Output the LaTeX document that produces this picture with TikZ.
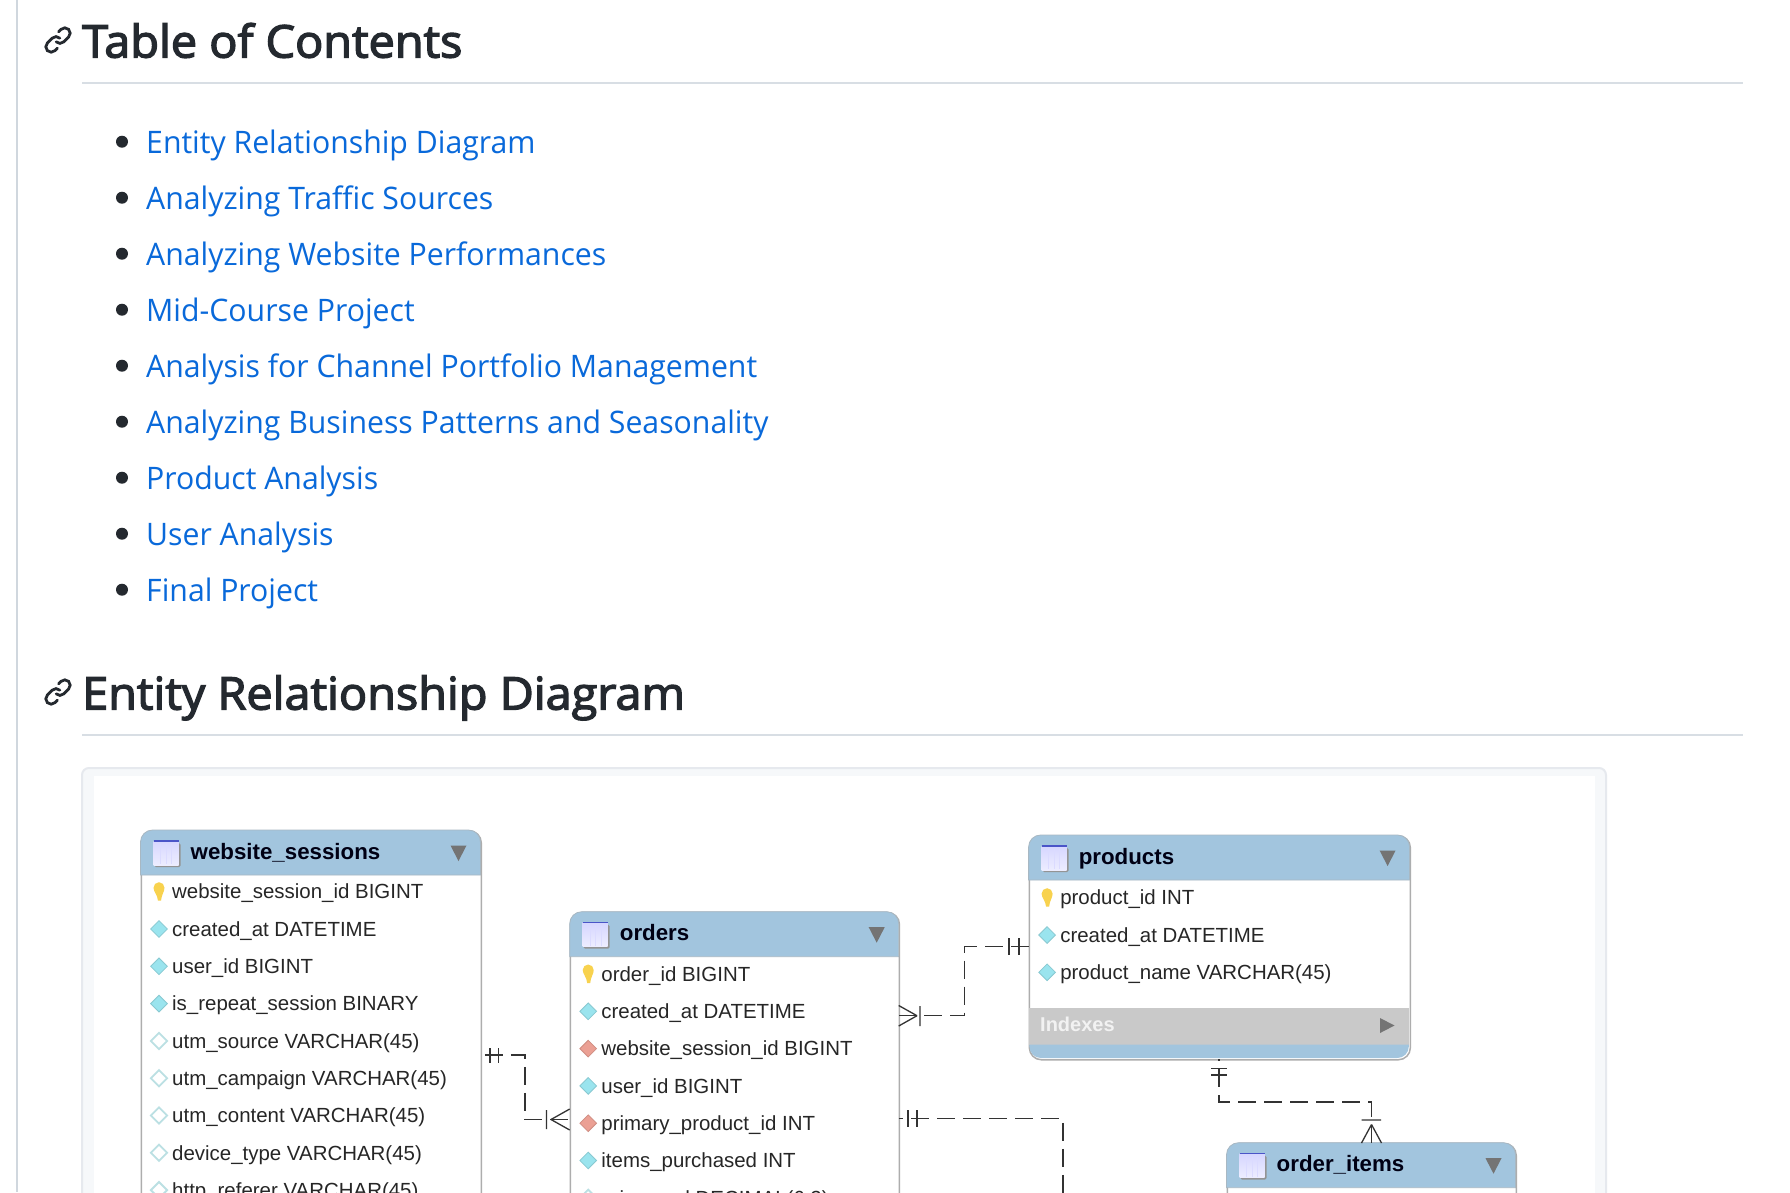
\documentclass[tikz,border=0pt]{standalone}
\usepackage{fontspec}
\setmainfont{Open Sans}
\newfontfamily\headfont{Open Sans}[FakeBold=3,FakeStretch=1.04]
\newfontfamily\listfont{Open Sans}[FakeStretch=0.975]
\newfontfamily\erfont{Liberation Sans}
\usetikzlibrary{shapes.geometric}
\definecolor{inkdark}{HTML}{24292F}
\definecolor{linkblue}{HTML}{0969DA}
\definecolor{rulegray}{HTML}{D8DEE4}
\definecolor{sidegray}{HTML}{D0D7DE}
\definecolor{erblue}{HTML}{A2C5DE}
\definecolor{erline}{HTML}{ADADAD}
\definecolor{ertri}{HTML}{747474}
\definecolor{iconblue}{HTML}{4A55C8}
\definecolor{markfull}{HTML}{9AE4EE}
\definecolor{markred}{HTML}{EBA094}
\definecolor{marknull}{HTML}{BBE0E3}
\definecolor{keygold}{HTML}{F8D24E}
\definecolor{framefill}{HTML}{F6F8FA}
\definecolor{frameline}{HTML}{E6E9EE}

% one table: name, x, y, width, height, title
\newcommand{\ertable}[6]{
  \node [erbody, minimum width=#4pt, minimum height=#5pt, anchor=north west] (#1) at (#2,#3) {};
  \draw [erhead] (#2,#3+45) -- (#2,#3+12) arc [start angle=180, end angle=270, radius=12]
    -- (#2+#4-12,#3) arc [start angle=270, end angle=360, radius=12] -- (#2+#4,#3+45) -- cycle;
  \fill [black!42, rounded corners=1.5pt] (#2+14,#3+13) rectangle (#2+40,#3+37);
  \shade [top color=blue!16!white, bottom color=blue!7!white] (#2+13,#3+11) rectangle (#2+38,#3+35);
  \draw [iconblue, line width=1.4pt] (#2+13,#3+11) -- (#2+38,#3+11);
  \foreach \s in {20,25.5,31} \draw [blue!14!white] (#2+\s,#3+14) -- (#2+\s,#3+34);
  \node [ertitle] (#1-title) at (#2+50,#3+29) {#6};
  \fill [ertri] (#2+#4-30,#3+15.5) -- (#2+#4-14,#3+15.5) -- (#2+#4-22,#3+31) -- cycle;
}
% rows of a table: name, x, y of first row, kind/text list
\newcommand{\erfields}[4]{
  \foreach \kind/\txt [count=\i] in {#4} {
    \pgfmathsetmacro\rowy{#3+(\i-1)*37.3}
    \node [\kind] (#1-mark-\i) at (#2+18.5,\rowy) {};
    \node [erfield] (#1-field-\i) at (#2+31.5,\rowy+7.2) {\txt};
  }
  \fill [keygold] (#2+13,#3-4) arc [start angle=180, end angle=360, radius=5.5]
    .. controls (#2+24,#3) and (#2+21,#3+3) .. (#2+20.5,#3+9)
    -- (#2+17.5,#3+9) .. controls (#2+17,#3+3) and (#2+13,#3) .. cycle;
}
\newcommand{\chainicon}[2]{
  \begin{scope}[shift={(#1-15.6,#2-15.6)}, x=1.95pt, y=-1.95pt, inkdark, line width=2.8pt, line cap=round]
    \draw (8.3,3.8) -- (9.555,2.555) arc [start angle=225, end angle=405, radius=2.75]
      -- (10.945,8.945) arc [start angle=45, end angle=135, radius=2.75];
    \draw (7.7,12.2) -- (6.445,13.445) arc [start angle=45, end angle=225, radius=2.75]
      -- (5.055,7.055) arc [start angle=225, end angle=315, radius=2.75];
  \end{scope}
}

\begin{document}
\begin{tikzpicture}[x=1pt,y=-1pt,
        erbody/.style={draw=erline,line width=1.5pt,fill=white,rounded corners=12pt},
        erhead/.style={fill=erblue,draw=erline!55!erblue,line width=.8pt},
        ertitle/.style={anchor=base west,inner sep=0pt,font=\erfont\bfseries\fontsize{22.3}{26}\selectfont,text=black!92!blue},
        erfield/.style={anchor=base west,inner sep=0pt,font=\erfont\fontsize{20.45}{26}\selectfont,text=black!85},
        mfull/.style={diamond,inner sep=0pt,minimum size=17pt,fill=markfull,draw=black!12!markfull,line width=.8pt},
        mnull/.style={diamond,inner sep=0pt,minimum size=17pt,fill=white,draw=marknull,line width=1.8pt},
        mfkey/.style={diamond,inner sep=0pt,minimum size=17pt,fill=markred,draw=black!12!markred,line width=.8pt},
        mnone/.style={inner sep=0pt,minimum size=1pt},
        relline/.style={draw=black!80,line width=1.5pt,dash pattern=on 18pt off 8pt},
        relmark/.style={draw=black!80,line width=1.3pt},
        heading/.style={anchor=base west,inner sep=0pt,font=\headfont\fontsize{45}{54}\selectfont,text=inkdark},
        toclink/.style={anchor=base west,inner sep=0pt,font=\listfont\fontsize{31}{38}\selectfont,text=linkblue},
        tocdot/.style={circle,fill=inkdark,inner sep=0pt,minimum size=12pt}
      ]
      \useasboundingbox (0,0) rectangle (1790,1192);
      \clip (0,0) rectangle (1790,1192);
      \fill [white] (0,0) rectangle (1790,1192);
      \draw [sidegray, line width=2pt] (17,0) -- (17,1192);

      % page headings and contents list
      \chainicon{58}{40}
      \node [heading] (tochead) at (82,57.5) {Table of Contents};
      \draw [rulegray, line width=2pt] (82,83) -- (1743,83);
      \foreach \txt [count=\i] in {Entity Relationship Diagram,Analyzing Traffic Sources,Analyzing Website Performances,Mid-Course Project,Analysis for Channel Portfolio Management,Analyzing Business Patterns and Seasonality,Product Analysis,User Analysis,Final Project} {
        \node [tocdot] (dot-\i) at (122,85.7+\i*56) {};
        \node [toclink] (toc-\i) at (146,97.5+\i*56) {\txt};
      }
      \chainicon{58}{692}
      \node [heading] (erdhead) at (82,709.5) {Entity Relationship Diagram};
      \draw [rulegray, line width=2pt] (82,735) -- (1743,735);

      % image frame
      \draw [frameline, fill=framefill, line width=2pt, rounded corners=7pt] (82,768) rectangle (1606,1300);
      \fill [white] (94,776) rectangle (1595,1300);

      % tables
      \ertable{sessions}{140.5}{830}{340}{500}{website\_sessions}
      \erfields{sessions}{140.5}{891.7}{mnone/website\_session\_id BIGINT,mfull/created\_at DATETIME,mfull/user\_id BIGINT,mfull/is\_repeat\_session BINARY,mnull/utm\_source VARCHAR(45),mnull/utm\_campaign VARCHAR(45),mnull/utm\_content VARCHAR(45),mnull/device\_type VARCHAR(45),mnull/http\_referer VARCHAR(45)}
      \ertable{orders}{569.7}{911.7}{329}{500}{orders}
      \erfields{orders}{569.7}{974}{mnone/order\_id BIGINT,mfull/created\_at DATETIME,mfkey/website\_session\_id BIGINT,mfull/user\_id BIGINT,mfkey/primary\_product\_id INT,mfull/items\_purchased INT,mnull/{price\_usd DECIMAL(6,2)}}
      \ertable{products}{1028.6}{835}{381}{224}{products}
      \erfields{products}{1028.6}{897.7}{mnone/product\_id INT,mfull/created\_at DATETIME,mfull/product\_name VARCHAR(45)}
      \fill [gray!42] (1029.4,1008) rectangle (1408.8,1044.5);
      \fill [erblue] (1029.4,1044.5) -- (1029.4,1046.5) arc [start angle=180, end angle=90, radius=11.5]
        -- (1397.3,1058) arc [start angle=90, end angle=0, radius=11.5] -- (1408.8,1044.5) -- cycle;
      \node [anchor=base west,inner sep=0pt,text=white!90!gray,font=\erfont\bfseries\fontsize{20}{24}\selectfont] (indexes) at (1040,1031) {Indexes};
      \fill [ertri] (1380,1018) -- (1394.5,1025.5) -- (1380,1033) -- cycle;
      \ertable{items}{1226.5}{1142.7}{289}{300}{order\_items}

      % relations
      \coordinate (sessport) at (480.5,1055);
      \coordinate (sessbend) at (525,1055);
      \coordinate (ordbend) at (525,1119.5);
      \coordinate (ordport) at (569.7,1119.5);
      \draw [relline, dash phase=21.6pt] (sessport) -- (sessbend) -- (ordbend) -- (ordport);
      \draw [relmark] (490,1048) -- (490,1063) (498.5,1048) -- (498.5,1063);
      \draw [relmark] (546.5,1110) -- (546.5,1129) (551,1119.5) -- (569.7,1109) (551,1119.5) -- (569.7,1130);

      \coordinate (prodport) at (1028.6,946.7);
      \coordinate (prodbend) at (964.5,946.7);
      \coordinate (ordtop) at (964.5,1015.7);
      \coordinate (ordright) at (898.7,1015.7);
      \draw [relline] (prodport) -- (prodbend) -- (ordtop) -- (ordright);
      \draw [relmark] (1009,938) -- (1009,955) (1019,938) -- (1019,955);
      \draw [relmark] (920,1006) -- (920,1026) (917,1015.7) -- (898.7,1005.5) (917,1015.7) -- (898.7,1026);

      \coordinate (ordlow) at (898.7,1118.7);
      \coordinate (lowbend) at (1063,1118.7);
      \coordinate (itemsdown) at (1063,1230);
      \draw [relline, dash phase=13.5pt] (ordlow) -- (lowbend) -- (itemsdown);
      \draw [relmark] (908,1110) -- (908,1127) (917,1110) -- (917,1127);

      \coordinate (prodlow) at (1219,1059);
      \coordinate (prodbendb) at (1219,1102);
      \coordinate (itembend) at (1371.5,1102);
      \coordinate (itemport) at (1371.5,1142.7);
      \draw [relline, dash phase=16pt] (prodlow) -- (prodbendb) -- (itembend) -- (itemport);
      \draw [relmark] (1211,1068.5) -- (1227,1068.5) (1211,1075) -- (1227,1075);
      \draw [relmark] (1361.5,1120) -- (1381,1120) (1371.5,1124.5) -- (1361.5,1143) (1371.5,1124.5) -- (1381.5,1143);
    \end{tikzpicture}
\end{document}
